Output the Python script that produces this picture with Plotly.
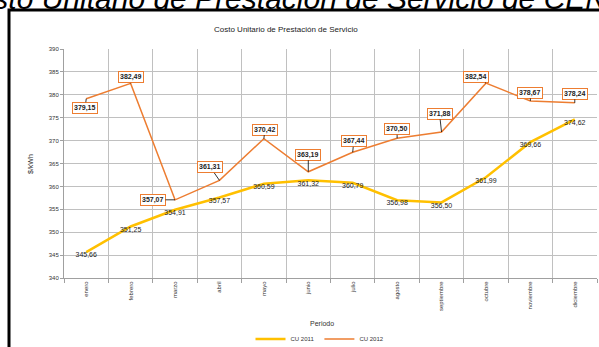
import plotly.graph_objects as go

meses = ["enero", "febrero", "marzo", "abril", "mayo", "junio", "julio",
         "agosto", "septiembre", "octubre", "noviembre", "diciembre"]
cu_2011 = [345.66, 351.25, 354.91, 357.57, 360.59, 361.32, 360.79,
           356.98, 356.50, 361.99, 369.66, 374.62]
cu_2012 = [379.15, 382.49, 357.07, 361.31, 370.42, 363.19, 367.44,
           370.50, 371.88, 382.54, 378.67, 378.24]
y_ticks = [340, 345, 350, 355, 360, 365, 370, 375, 380, 385, 390]

# label offsets (px) for the 2012 boxed labels
off_2012 = [(-1, 9), (0, -6), (-22, 0), (-9, -13), (1, -9), (0, -17),
            (1, -11), (0, -9), (-2, -18), (-10, -6), (0, -8), (0, -9)]

W, H = 599, 347
L, R, T, B = 64, 597, 49, 278


def px_x(p):
    return (p - L) / (R - L)


def px_y(p):
    return (B - p) / (B - T)


def fmt(v):
    return f"{v:.2f}".replace(".", ",")


FONT = "Liberation Sans, Arial, sans-serif"
C11 = "#FFC000"
C12 = "#ED7D31"

fig = go.Figure()
fig.add_trace(go.Scatter(
    x=meses, y=cu_2011, name="CU 2011", mode="lines+text",
    line=dict(color=C11, width=2.5),
    text=[fmt(v) for v in cu_2011], textposition="bottom center",
    textfont=dict(family=FONT, size=7, color="#222222"),
))
fig.add_trace(go.Scatter(
    x=meses, y=cu_2012, name="CU 2012", mode="lines",
    line=dict(color=C12, width=1.5),
))

annotations = []
for m, v, (ax, ay) in zip(meses, cu_2012, off_2012):
    annotations.append(dict(
        x=m, y=v, xref="x", yref="y", text="<b>" + fmt(v) + "</b>",
        showarrow=True, arrowhead=0, arrowwidth=0.8, arrowcolor="#000000",
        ax=ax, ay=ay, standoff=0,
        font=dict(family=FONT, size=7, color="#222222"),
        bgcolor="white", bordercolor=C12, borderwidth=1, borderpad=1,
    ))

# big cropped page title
annotations.append(dict(
    text="<i>Costo Unitario de Prestación de Servicio de CENS</i>",
    xref="paper", yref="paper", x=px_x(291), y=px_y(-2),
    xanchor="center", yanchor="middle", showarrow=False,
    font=dict(family=FONT, size=30, color="#000000"),
))
# chart title
annotations.append(dict(
    text="Costo Unitario de Prestación de Servicio",
    xref="paper", yref="paper", x=px_x(286), y=px_y(30),
    xanchor="center", yanchor="middle", showarrow=False,
    font=dict(family=FONT, size=8, color="#222222"),
))
# axis titles
annotations.append(dict(
    text="$/kWh", xref="paper", yref="paper", x=px_x(30), y=px_y(164),
    xanchor="center", yanchor="middle", showarrow=False, textangle=-90,
    font=dict(family=FONT, size=7, color="#333333"),
))
annotations.append(dict(
    text="Periodo", xref="paper", yref="paper", x=px_x(322), y=px_y(323),
    xanchor="center", yanchor="middle", showarrow=False,
    font=dict(family=FONT, size=7, color="#333333"),
))

fig.update_layout(
    width=W, height=H,
    margin=dict(l=L, r=W - R, t=T, b=H - B, autoexpand=False),
    paper_bgcolor="white", plot_bgcolor="white",
    showlegend=True,
    legend=dict(orientation="h", x=px_x(320), y=px_y(339),
                xanchor="center", yanchor="middle",
                font=dict(family=FONT, size=6, color="#333333"),
                itemwidth=30, tracegroupgap=0),
    annotations=annotations,
    shapes=[dict(type="rect", xref="paper", yref="paper",
                 x0=px_x(9), x1=px_x(620), y0=px_y(360), y1=px_y(10),
                 line=dict(color="black", width=3), layer="below")],
)
fig.update_xaxes(
    type="category", tickson="boundaries", showgrid=True,
    gridcolor="#C0C0C0", gridwidth=1, ticks="outside", ticklen=4,
    tickcolor="#A0A0A0", showline=True, linecolor="#A0A0A0",
    tickangle=-90, tickfont=dict(family=FONT, size=6, color="#333333"),
    range=[-0.5, 11.5],
)
fig.update_yaxes(
    range=[340, 390], tickvals=y_ticks, showgrid=True,
    gridcolor="#C0C0C0", gridwidth=1, ticks="outside", ticklen=3,
    tickcolor="#A0A0A0", showline=True, linecolor="#A0A0A0",
    tickfont=dict(family=FONT, size=6, color="#333333"), zeroline=False,
)

fig.write_html("out.html")
